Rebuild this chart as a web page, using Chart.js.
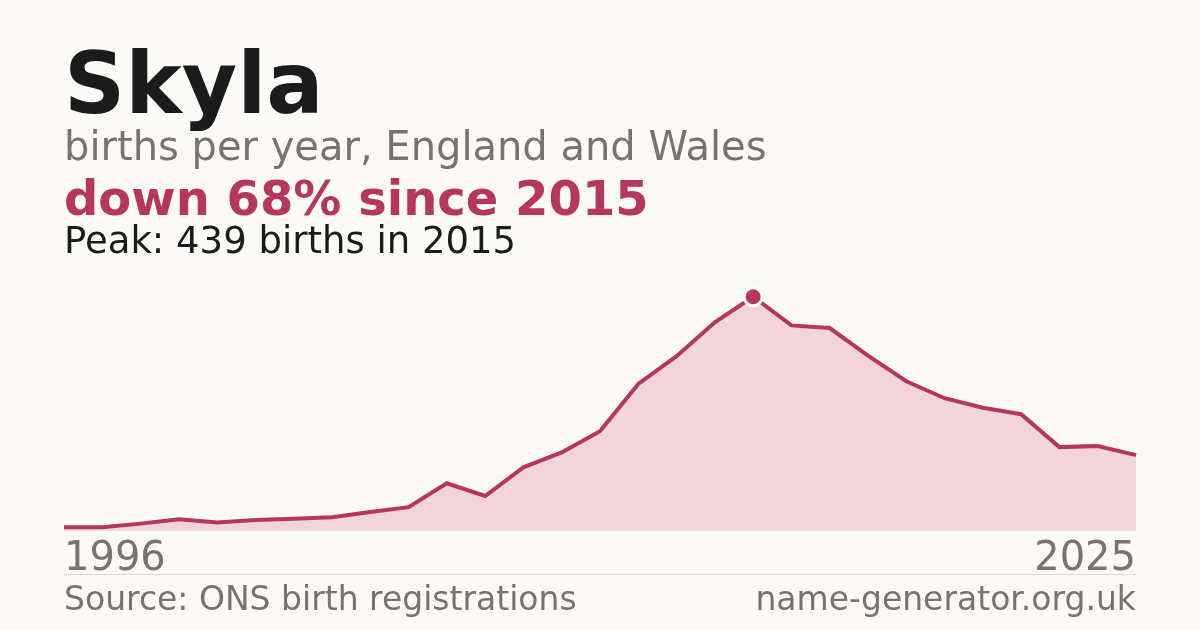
<!DOCTYPE html>
<html>
<head>
<meta charset="utf-8">
<script src="https://cdn.jsdelivr.net/npm/chart.js@4/dist/chart.umd.min.js"></script>
<style>
  html, body { margin:0; padding:0; background:#fbfaf6; }
  body { width:1200px; height:630px; position:relative; overflow:hidden; font-family:"DejaVu Sans", sans-serif; }
  .t { position:absolute; left:64px; line-height:1; white-space:nowrap; margin:0; }
  #title { top:41px; font-size:85px; font-weight:bold; color:#1b1b1b; }
  #sub { top:126px; font-size:40px; color:#78736d; }
  #change { top:174px; font-size:48px; font-weight:bold; color:#b5385a; }
  #peak { top:222px; font-size:37px; color:#1b1b1b; }
  #y0 { top:536px; font-size:40px; color:#78736d; }
  #y1 { top:536px; left:auto; right:64px; font-size:40px; color:#78736d; }
  #src { top:582px; font-size:33px; color:#78736d; }
  #site { top:582px; left:auto; right:64px; font-size:33px; color:#78736d; }
  #sep { position:absolute; left:64px; width:1072px; top:574px; height:1px; background:#dcd8d1; }
  #base { position:absolute; left:64px; width:1072px; top:530px; height:1px; background:#e4e0da; }
  #wrap { position:absolute; left:0; top:0; width:1200px; height:630px; }
</style>
</head>
<body>
<div id="wrap"><canvas id="c"></canvas></div>
<div id="base"></div>
<div class="t" id="title">Skyla</div>
<div class="t" id="sub">births per year, England and Wales</div>
<div class="t" id="change">down 68% since 2015</div>
<div class="t" id="peak">Peak: 439 births in 2015</div>
<div class="t" id="y0">1996</div>
<div class="t" id="y1">2025</div>
<div id="sep"></div>
<div class="t" id="src">Source: ONS birth registrations</div>
<div class="t" id="site">name-generator.org.uk</div>
<script>
const years = [1996,1998,1999,2000,2001,2002,2003,2004,2005,2006,2007,2008,2009,2010,2011,2012,2013,2014,2015,2016,2017,2018,2019,2020,2021,2022,2023,2024,2025];
const births = [5,5,12,20,14,19,21,24,34,43,88,64,118,146,186,275,327,391,439,385,380,328,280,248,230,218,156,158,141];
const peakYear = 2015;
const lineColor = '#b5385a';
const fillColor = '#f1d5da';

const peakIdx = years.indexOf(peakYear);
const radii = births.map((v,i)=> i===peakIdx ? 9 : 0);

new Chart(document.getElementById('c'), {
  type: 'line',
  data: {
    labels: years.map(String),
    datasets: [{
      data: births,
      borderColor: lineColor,
      backgroundColor: fillColor,
      fill: 'origin',
      borderWidth: 4,
      tension: 0,
      pointRadius: radii,
      pointHoverRadius: radii,
      pointBackgroundColor: lineColor,
      pointBorderColor: '#ffffff',
      pointBorderWidth: 3,
      borderJoinStyle: 'miter'
    }]
  },
  options: {
    responsive: true,
    maintainAspectRatio: false,
    animation: false,
    events: [],
    layout: { padding: { left: 64, right: 64, top: 276, bottom: 100 } },
    plugins: { legend: { display: false }, tooltip: { enabled: false } },
    scales: {
      x: { display: false, offset: false },
      y: { display: false, min: 0, max: 478 }
    }
  }
});
</script>
</body>
</html>
